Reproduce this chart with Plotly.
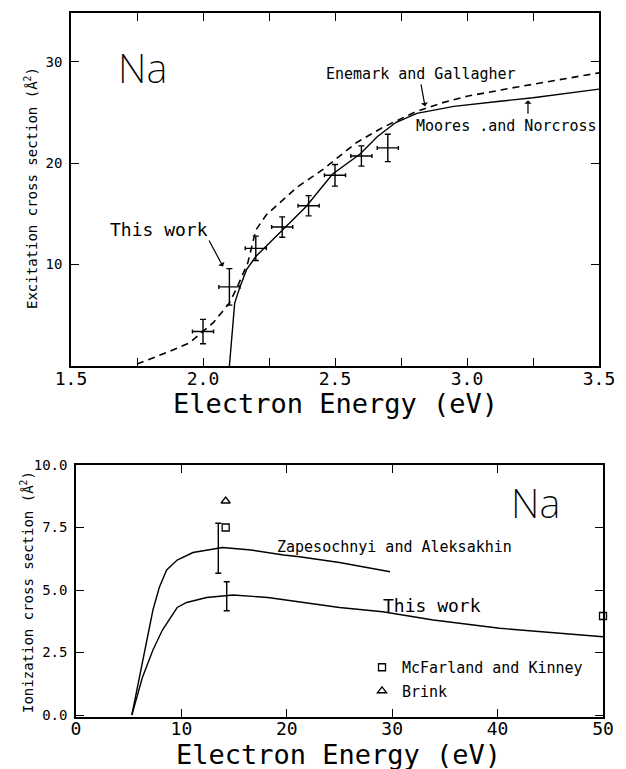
import plotly.graph_objects as go

W, H = 626, 769

# ---------------- Top panel data (excitation) ----------------
tw_x = [2.0, 2.1, 2.2, 2.3, 2.4, 2.5, 2.6, 2.7]
tw_y = [3.4, 7.8, 11.6, 13.7, 15.8, 18.8, 20.7, 21.5]
tw_yerr = [1.2, 1.8, 1.2, 1.0, 1.0, 1.07, 1.0, 1.35]
tw_xerr = [0.04, 0.04, 0.04, 0.04, 0.04, 0.04, 0.04, 0.04]

mn_x = [2.10, 2.12, 2.14, 2.165, 2.20, 2.29, 2.39, 2.49, 2.595, 2.66, 2.73, 2.81, 2.95, 3.125, 3.25, 3.5]
mn_y = [0.0, 6.2, 7.8, 9.5, 10.8, 13.1, 15.7, 18.9, 20.9, 22.6, 24.0, 24.9, 25.6, 26.1, 26.45, 27.3]

eg_x = [1.75, 1.86, 1.95, 2.04, 2.10, 2.13, 2.17, 2.20, 2.24, 2.355, 2.456, 2.58, 2.68, 2.80, 2.90, 3.0, 3.19, 3.5]
eg_y = [0.2, 1.3, 2.3, 4.3, 6.2, 7.8, 10.2, 13.4, 14.9, 17.6, 19.4, 22.0, 23.5, 25.0, 25.9, 26.6, 27.5, 28.9]

top_xticks = [1.5, 2.0, 2.5, 3.0, 3.5]
top_xlabels = ["1.5", "2.0", "2.5", "3.0", "3.5"]
top_xminor = [1.75, 2.25, 2.75, 3.25]
top_yticks = [10, 20, 30]
top_ylabels = ["10", "20", "30"]

# ---------------- Bottom panel data (ionization) ----------------
btw_x = [5.3, 6.3, 7.3, 8.2, 9.6, 10.5, 12.4, 14.9, 18.2, 21.2, 25.0, 29.1, 33.9, 40.2, 50.0]
btw_y = [0.0, 1.5, 2.6, 3.4, 4.3, 4.5, 4.7, 4.8, 4.7, 4.53, 4.3, 4.13, 3.8, 3.47, 3.13]

za_x = [5.3, 6.0, 6.7, 7.3, 7.9, 8.6, 9.6, 11.1, 13.9, 16.6, 19.7, 21.2, 25.0, 29.8]
za_y = [0.0, 1.5, 2.9, 4.2, 5.1, 5.8, 6.2, 6.5, 6.7, 6.6, 6.4, 6.33, 6.1, 5.73]

err_x = [13.5, 14.3]
err_y = [6.67, 4.75]
err_e = [1.0, 0.58]

mk_x = [14.2, 50.0]
mk_y = [7.5, 3.96]
br_x = [14.2]
br_y = [8.56]

bot_xticks = [0, 10, 20, 30, 40, 50]
bot_xlabels = ["0", "10", "20", "30", "40", "50"]
bot_yticks = [0, 2.5, 5.0, 7.5, 10.0]
bot_ylabels = ["0.0", "2.5", "5.0", "7.5", "10.0"]

MONO = "DejaVu Sans Mono"
SANS = "DejaVu Sans"
BLK = "black"

fig = go.Figure()

# top traces
fig.add_trace(go.Scatter(x=eg_x, y=eg_y, mode="lines", xaxis="x", yaxis="y",
                         line=dict(color=BLK, width=1.6, dash="7px,5px"), showlegend=False))
fig.add_trace(go.Scatter(x=mn_x, y=mn_y, mode="lines", xaxis="x", yaxis="y",
                         line=dict(color=BLK, width=1.4), showlegend=False))
fig.add_trace(go.Scatter(x=tw_x, y=tw_y, mode="markers", xaxis="x", yaxis="y",
                         marker=dict(size=1, color=BLK),
                         error_y=dict(type="data", array=tw_yerr, color=BLK, thickness=1.4, width=3),
                         error_x=dict(type="data", array=tw_xerr, color=BLK, thickness=1.4, width=2),
                         showlegend=False))

# bottom traces
fig.add_trace(go.Scatter(x=za_x, y=za_y, mode="lines", xaxis="x2", yaxis="y2",
                         line=dict(color=BLK, width=1.4), showlegend=False))
fig.add_trace(go.Scatter(x=btw_x, y=btw_y, mode="lines", xaxis="x2", yaxis="y2",
                         line=dict(color=BLK, width=1.4), showlegend=False))
fig.add_trace(go.Scatter(x=err_x, y=err_y, mode="markers", xaxis="x2", yaxis="y2",
                         marker=dict(size=1, color=BLK),
                         error_y=dict(type="data", array=err_e, color=BLK, thickness=1.4, width=3),
                         showlegend=False))
fig.add_trace(go.Scatter(x=mk_x, y=mk_y, mode="markers", xaxis="x2", yaxis="y2",
                         name="McFarland and Kinney", legendgroup="a", cliponaxis=False,
                         marker=dict(symbol="square-open", size=7, color=BLK, line=dict(width=1.3, color=BLK))))
fig.add_trace(go.Scatter(x=br_x, y=br_y, mode="markers", xaxis="x2", yaxis="y2",
                         name="Brink", legendgroup="b", cliponaxis=False,
                         marker=dict(symbol="triangle-up-open", size=8, color=BLK, line=dict(width=1.3, color=BLK))))

def px_x(p):
    return p / W

def px_y(p):
    return 1 - p / H

axis_common = dict(showline=True, linecolor=BLK, linewidth=1.5, mirror="ticks",
                   ticks="inside", ticklen=8, tickwidth=1.3, tickcolor=BLK,
                   showgrid=False, zeroline=False, automargin=False)

fig.update_layout(
    template="none",
    width=W, height=H,
    margin=dict(l=0, r=0, t=0, b=0, pad=0, autoexpand=False),
    paper_bgcolor="white", plot_bgcolor="white",
    xaxis=dict(domain=[px_x(71), px_x(599)], range=[1.5, 3.5], anchor="y",
               tickmode="array", tickvals=top_xticks, ticktext=top_xlabels,
               minor=dict(tickvals=top_xminor, ticks="inside", ticklen=8, tickwidth=1.3,
                          tickcolor=BLK, showgrid=False),
               tickfont=dict(family=MONO, size=18, color=BLK), ticklabelstandoff=-4,
               **axis_common),
    yaxis=dict(domain=[px_y(366), px_y(13)], range=[0, 34.8], anchor="x",
               tickmode="array", tickvals=top_yticks, ticktext=top_ylabels,
               tickfont=dict(family=MONO, size=14, color=BLK), ticklabelstandoff=4,
               **axis_common),
    xaxis2=dict(domain=[px_x(76), px_x(603)], range=[0, 50], anchor="y2",
                tickmode="array", tickvals=bot_xticks, ticktext=bot_xlabels,
                tickfont=dict(family=MONO, size=18, color=BLK), ticklabelstandoff=-5,
                **axis_common),
    yaxis2=dict(domain=[px_y(717), px_y(465)], range=[-0.08, 10], anchor="x2",
                tickmode="array", tickvals=bot_yticks, ticktext=bot_ylabels,
                tickfont=dict(family=MONO, size=14, color=BLK), ticklabelstandoff=4,
                **axis_common),
    legend=dict(x=px_x(362), y=px_y(651), xanchor="left", yanchor="top",
                font=dict(family=MONO, size=15, color=BLK), bgcolor="rgba(0,0,0,0)",
                traceorder="grouped", tracegroupgap=1, itemwidth=30, borderwidth=0),
    showlegend=True,
)

ann = []
def text(x, y, s, size, xref="x", yref="y", family=MONO, angle=0, weight="normal"):
    ann.append(dict(x=x, y=y, xref=xref, yref=yref, text=s, showarrow=False,
                    font=dict(family=family, size=size, color=BLK, weight=weight),
                    textangle=angle, xanchor="center", yanchor="middle"))

def label_arrow(x, y, ax, ay, s, size, xanchor, yanchor):
    ann.append(dict(x=x, y=y, xref="x", yref="y", ax=ax, ay=ay, text=s,
                    xanchor=xanchor, yanchor=yanchor, borderpad=0,
                    font=dict(family=MONO, size=size, color=BLK),
                    showarrow=True, arrowhead=1, arrowsize=1, arrowwidth=1.2, arrowcolor=BLK))

def arrow(x, y, ax, ay):
    ann.append(dict(x=x, y=y, xref="x", yref="y", ax=ax, ay=ay, text="",
                    showarrow=True, arrowhead=1, arrowsize=1, arrowwidth=1.2, arrowcolor=BLK))

THIN = "DejaVu Sans ExtraLight, Noto Sans, DejaVu Sans"

# top panel texts
text(1.77, 29.4, "Na", 40, family=THIN, weight=200)
label_arrow(2.076, 9.8, -14, -26, "This work", 18, "right", "bottom")
label_arrow(2.841, 25.6, -4, -22, "Enemark and Gallagher", 15, "center", "bottom")
text(3.148, 23.7, "Moores .and Norcross", 15)
arrow(3.231, 26.2, 0, 15)

# bottom panel texts
text(43.6, 8.5, "Na", 40, xref="x2", yref="y2", family=THIN, weight=200)
text(30.2, 6.72, "Zapesochnyi and Aleksakhin", 15, xref="x2", yref="y2")
text(33.8, 4.4, "This work", 18, xref="x2", yref="y2")

# axis titles
text(px_x(335), px_y(404), "Electron Energy (eV)", 27, xref="paper", yref="paper")
text(px_x(338), px_y(754), "Electron Energy (eV)", 27, xref="paper", yref="paper")
text(px_x(31), px_y(188), "Excitation cross section (Å<sup>2</sup>)", 14,
     xref="paper", yref="paper", angle=-90)
text(px_x(27), px_y(592), "Ionization cross section (Å<sup>2</sup>)", 14,
     xref="paper", yref="paper", angle=-90)

fig.update_layout(annotations=ann)

fig.write_html("out.html", config={"displayModeBar": False},
               post_script="document.body.style.margin='0px';document.body.style.overflow='hidden';")
